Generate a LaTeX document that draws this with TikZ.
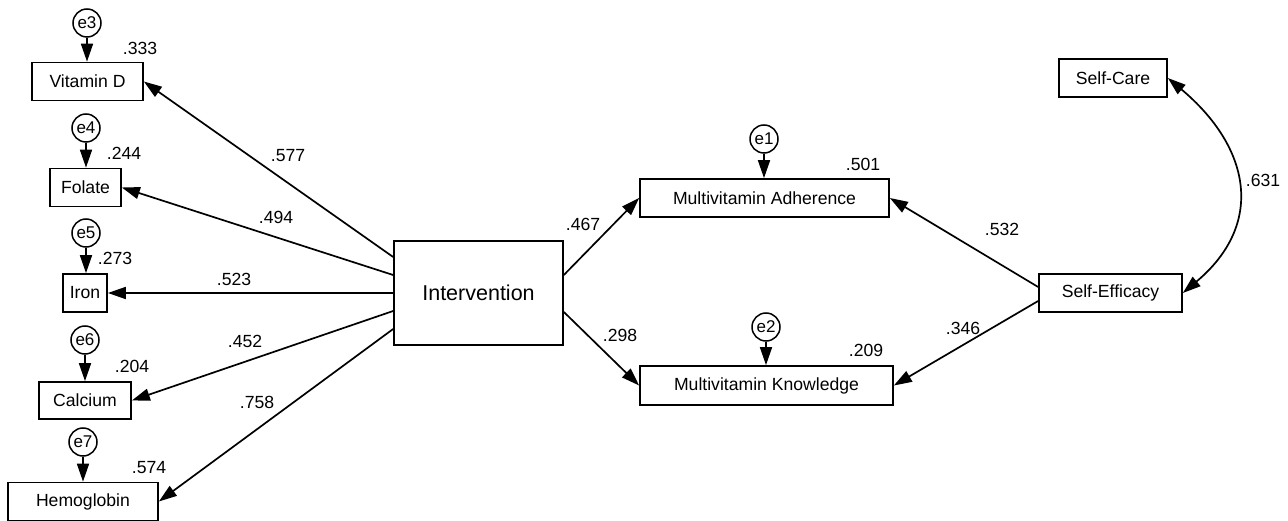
\documentclass[tikz,border=0pt]{standalone}
\usepackage{fontspec}
\setmainfont{Liberation Sans}
\usetikzlibrary{arrows.meta}

\begin{document}
\begin{tikzpicture}
[x=1pt,y=-1pt,line width=1.7pt,%
  >={Triangle[length=18pt,width=12pt]},%
  var/.style={draw,rectangle,inner sep=0pt,minimum height=38pt,font=\fontsize{17.6}{20}\selectfont},%
  err/.style={draw,circle,inner sep=0pt,minimum size=28pt,line width=1.5pt,font=\fontsize{17}{19}\selectfont},%
  coef/.style={inner sep=0pt,font=\fontsize{17.6}{20}\selectfont}]
\useasboundingbox (0,0) rectangle (1288,521);
\node[var,minimum width=111pt] (vitd) at (87.5,81.5) {Vitamin D};
\node[var,minimum width=71pt] (fol) at (85.5,187.5) {Folate};
\node[var,minimum width=44pt] (iron) at (85,293) {Iron};
\node[var,minimum width=92pt,minimum height=37pt] (calc) at (85,400.5) {Calcium};
\node[var,minimum width=150pt] (hemo) at (83,501.5) {Hemoglobin};
\node[var,minimum width=169pt,minimum height=104pt,font=\fontsize{21.5}{25}\selectfont] (int) at (478.5,293) {Intervention};
\node[var,minimum width=249pt] (adh) at (764.5,198) {Multivitamin Adherence};
\node[var,minimum width=253pt,minimum height=39pt] (know) at (766.5,385.5) {Multivitamin Knowledge};
\node[var,minimum width=108pt] (care) at (1113,78) {Self-Care};
\node[var,minimum width=143pt] (eff) at (1110.5,293) {Self-Efficacy};
\node[err] (e3) at (87,23) {e3};
\node[err] (e4) at (86,128) {e4};
\node[err] (e5) at (86,233) {e5};
\node[err] (e6) at (85,340) {e6};
\node[err] (e7) at (83,442) {e7};
\node[err] (e1) at (764,139) {e1};
\node[err] (e2) at (766,327) {e2};
\foreach \e/\v in {e3/vitd,e4/fol,e5/iron,e6/calc,e7/hemo,e1/adh,e2/know}
  \draw[->] (\e) -- (\e |- \v.north);
\draw[->] ([yshift=36pt]int.west) -- (vitd.east);
\draw[->] ([yshift=18pt]int.west) -- (fol.east);
\draw[->] (int.west) -- (iron.east);
\draw[->] ([yshift=-18pt]int.west) -- (calc.east);
\draw[->] ([yshift=-36pt]int.west) -- (hemo.east);
\draw[->] ([yshift=18pt]int.east) -- (adh.west);
\draw[->] ([yshift=-19pt]int.east) -- (know.west);
\draw[->] ([yshift=6pt]eff.west) -- (adh.east);
\draw[->] ([yshift=-8pt]eff.west) -- (know.east);
\draw[<->] (care.east) to[out=-40,in=40,looseness=1.28] (eff.east);
\node[coef] (r3) at (140,48) {.333};
\node[coef] (r4) at (124,153) {.244};
\node[coef] (r5) at (115,258) {.273};
\node[coef] (r6) at (132,366) {.204};
\node[coef] (r7) at (149,468) {.574};
\node[coef] (r1) at (863,164) {.501};
\node[coef] (r2) at (866,350) {.209};
\node[coef] (pvitd) at (288,156) {.577};
\node[coef] (pfol) at (276,217) {.494};
\node[coef] (piron) at (234,279) {.523};
\node[coef] (pcalc) at (245,341) {.452};
\node[coef] (phemo) at (257,402) {.758};
\node[coef] (padh) at (583,224) {.467};
\node[coef] (pknow) at (620,335) {.298};
\node[coef] (effadh) at (1002,229) {.532};
\node[coef] (effknow) at (963,328) {.346};
\node[coef] (cov) at (1263,180) {.631};
\end{tikzpicture}
\end{document}
